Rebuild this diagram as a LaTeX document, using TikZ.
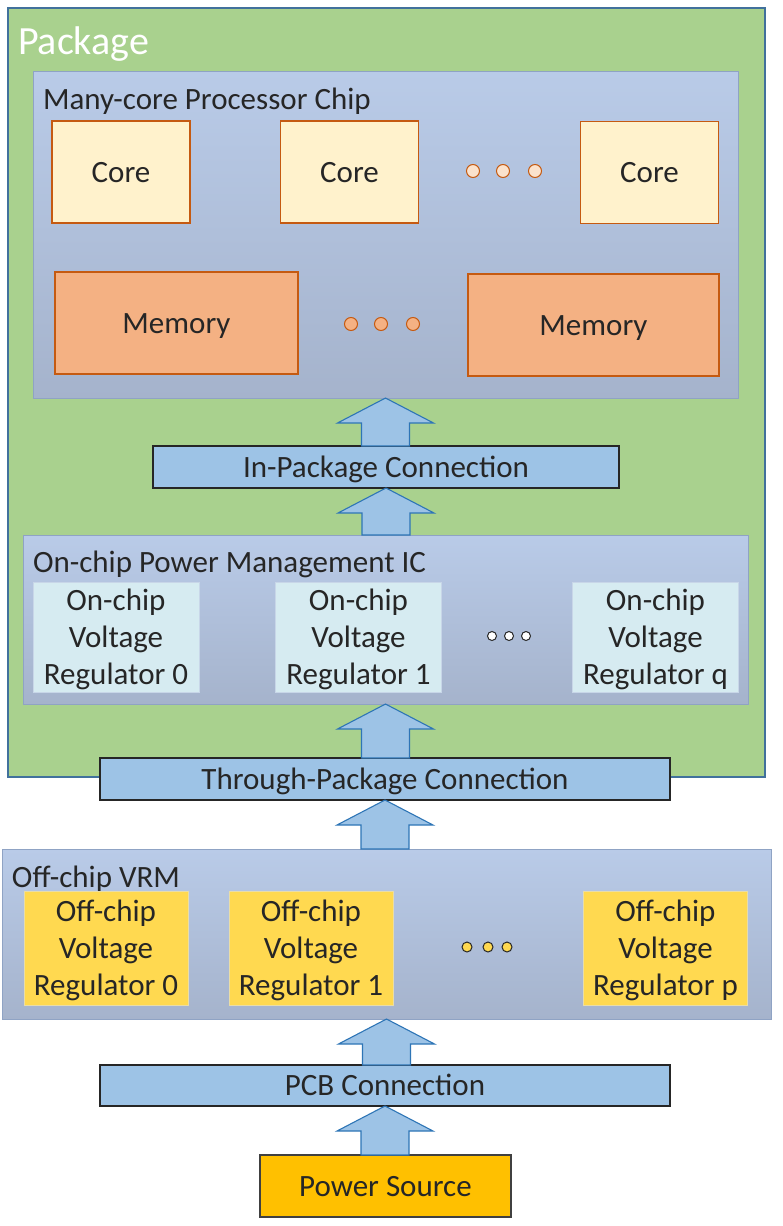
\documentclass[tikz,border=0pt]{standalone}
\usepackage{fontspec}
\setmainfont{Carlito}
\usetikzlibrary{calc}
\definecolor{pkgfill}{HTML}{A9D18E}
\definecolor{pkgline}{HTML}{41719C}
\definecolor{chiptop}{HTML}{B9CBE8}
\definecolor{chipbot}{HTML}{A5B3CC}
\definecolor{chipline}{HTML}{8FA3C4}
\definecolor{corefill}{HTML}{FFF2CC}
\definecolor{coreline}{HTML}{C55A11}
\definecolor{memfill}{HTML}{F4B183}
\definecolor{connfill}{HTML}{9DC3E6}
\definecolor{arrline}{HTML}{2E75B6}
\definecolor{onfill}{HTML}{D6EBF1}
\definecolor{online}{HTML}{C8D6E8}
\definecolor{offfill}{HTML}{FFD950}
\definecolor{offline}{HTML}{E9DDA8}
\definecolor{pwrfill}{HTML}{FFC000}
\definecolor{txt}{HTML}{262626}
\definecolor{coredot}{HTML}{FBE2CC}
\tikzset{
  every node/.style={inner sep=0pt, outer sep=0pt, text=txt, font=\fontsize{31}{37}\selectfont},
  pkgbox/.style={draw=pkgline, line width=1.2pt, fill=pkgfill},
  groupbox/.style={draw=chipline, line width=1pt, top color=chiptop, bottom color=chipbot},
  oneline/.style={text height=20pt, text depth=0pt},
  corebox/.style={oneline, draw=coreline, line width=1.2pt, fill=corefill, minimum width=138pt, minimum height=102pt},
  membox/.style={oneline, draw=coreline, line width=1.2pt, fill=memfill, minimum height=102pt},
  connbox/.style={oneline, draw=black!85, line width=1.2pt, fill=connfill, minimum height=42pt},
  onreg/.style={draw=online, line width=1pt, fill=onfill, minimum width=166pt, minimum height=110pt, align=center, text depth=0pt},
  offreg/.style={draw=offline, line width=1pt, fill=offfill, minimum width=164pt, minimum height=114pt, align=center, text depth=0pt},
  pwrbox/.style={oneline, draw=black!75, line width=1.2pt, fill=pwrfill, minimum width=251pt, minimum height=62pt},
  barrow/.style={draw=arrline, line width=1.1pt, fill=connfill, line join=miter},
  title/.style={anchor=base west},
}
\newcommand\blockarr[2]{%
  \draw[barrow] let \p1=(#1), \p2=(#2) in
    (\x2-24pt,\y1) -- (\x2-24pt,\y2-25pt) -- (\x2-48pt,\y2-25pt) -- (\x2,\y2)
    -- (\x2+48pt,\y2-25pt) -- (\x2+24pt,\y2-25pt) -- (\x2+24pt,\y1) -- cycle;}
\begin{document}
\begin{tikzpicture}[x=1pt,y=-1pt]
\useasboundingbox (0,0) rectangle (782,1226);
\fill[white] (0,0) rectangle (782,1226);
% package
\node[pkgbox, minimum width=757pt, minimum height=769pt] (pkg) at (386.5,392.5) {};
\node[title, text=white, font=\fontsize{40}{46}\selectfont] (pkgt) at (18,54) {Package};
% chip
\node[groupbox, minimum width=705pt, minimum height=327pt] (chip) at (385.5,234.5) {};
\node[title] (chipt) at (43,109) {Many-core Processor Chip};
\node[corebox] (core1) at (121,172) {Core};
\node[corebox] (core2) at (349.5,172) {Core};
\node[corebox] (core3) at (649.5,172.5) {Core};
\foreach \x [count=\i] in {473,503,535}
  \node[circle, draw=coreline, line width=1pt, fill=coredot, minimum size=13pt] (cd\i) at (\x,171) {};
\node[membox, minimum width=243pt] (mem1) at (176.5,323) {Memory};
\node[membox, minimum width=251pt] (mem2) at (593.5,325) {Memory};
\foreach \x [count=\i] in {351,381,413}
  \node[circle, draw=coreline, line width=1pt, fill=memfill, minimum size=13pt] (md\i) at (\x,324) {};
% in-package connection
\node[connbox, minimum width=466pt] (inpk) at (386,467) {In-Package Connection};
% PMIC
\node[groupbox, minimum width=725pt, minimum height=169pt] (pmic) at (385.5,619.5) {};
\node[title] (pmict) at (33,572) {On-chip Power Management IC};
\node[onreg] (on0) at (116,637) {On-chip\\Voltage\\Regulator 0};
\node[onreg] (on1) at (358.5,637) {On-chip\\Voltage\\Regulator 1};
\node[onreg] (onq) at (655.5,637) {On-chip\\Voltage\\Regulator q};
\foreach \x [count=\i] in {492,509,526}
  \node[circle, draw=txt, line width=1pt, fill=white, minimum size=9pt] (od\i) at (\x,636) {};
% through-package connection
\node[connbox, minimum width=570pt] (thru) at (385,779) {Through-Package Connection};
% VRM
\node[groupbox, minimum width=769pt, minimum height=170pt] (vrm) at (386.5,934) {};
\node[title] (vrmt) at (12,887) {Off-chip VRM};
\node[offreg] (off0) at (106,948) {Off-chip\\Voltage\\Regulator 0};
\node[offreg] (off1) at (311,948) {Off-chip\\Voltage\\Regulator 1};
\node[offreg] (offp) at (665.5,948) {Off-chip\\Voltage\\Regulator p};
\foreach \x [count=\i] in {467,488,507}
  \node[circle, draw=txt, line width=1pt, fill=offfill, minimum size=10pt] (fd\i) at (\x,947) {};
% PCB connection and power source
\node[connbox, minimum width=570pt, minimum height=41pt] (pcb) at (385,1085.5) {PCB Connection};
\node[pwrbox] (pwr) at (385.5,1186) {Power Source};
% block arrows
\blockarr{inpk.north}{chip.south}
\blockarr{pmic.north}{inpk.south}
\blockarr{thru.north}{pmic.south}
\blockarr{vrm.north}{thru.south}
\blockarr{pcb.north}{vrm.south}
\blockarr{pwr.north}{pcb.south}
\end{tikzpicture}
\end{document}
